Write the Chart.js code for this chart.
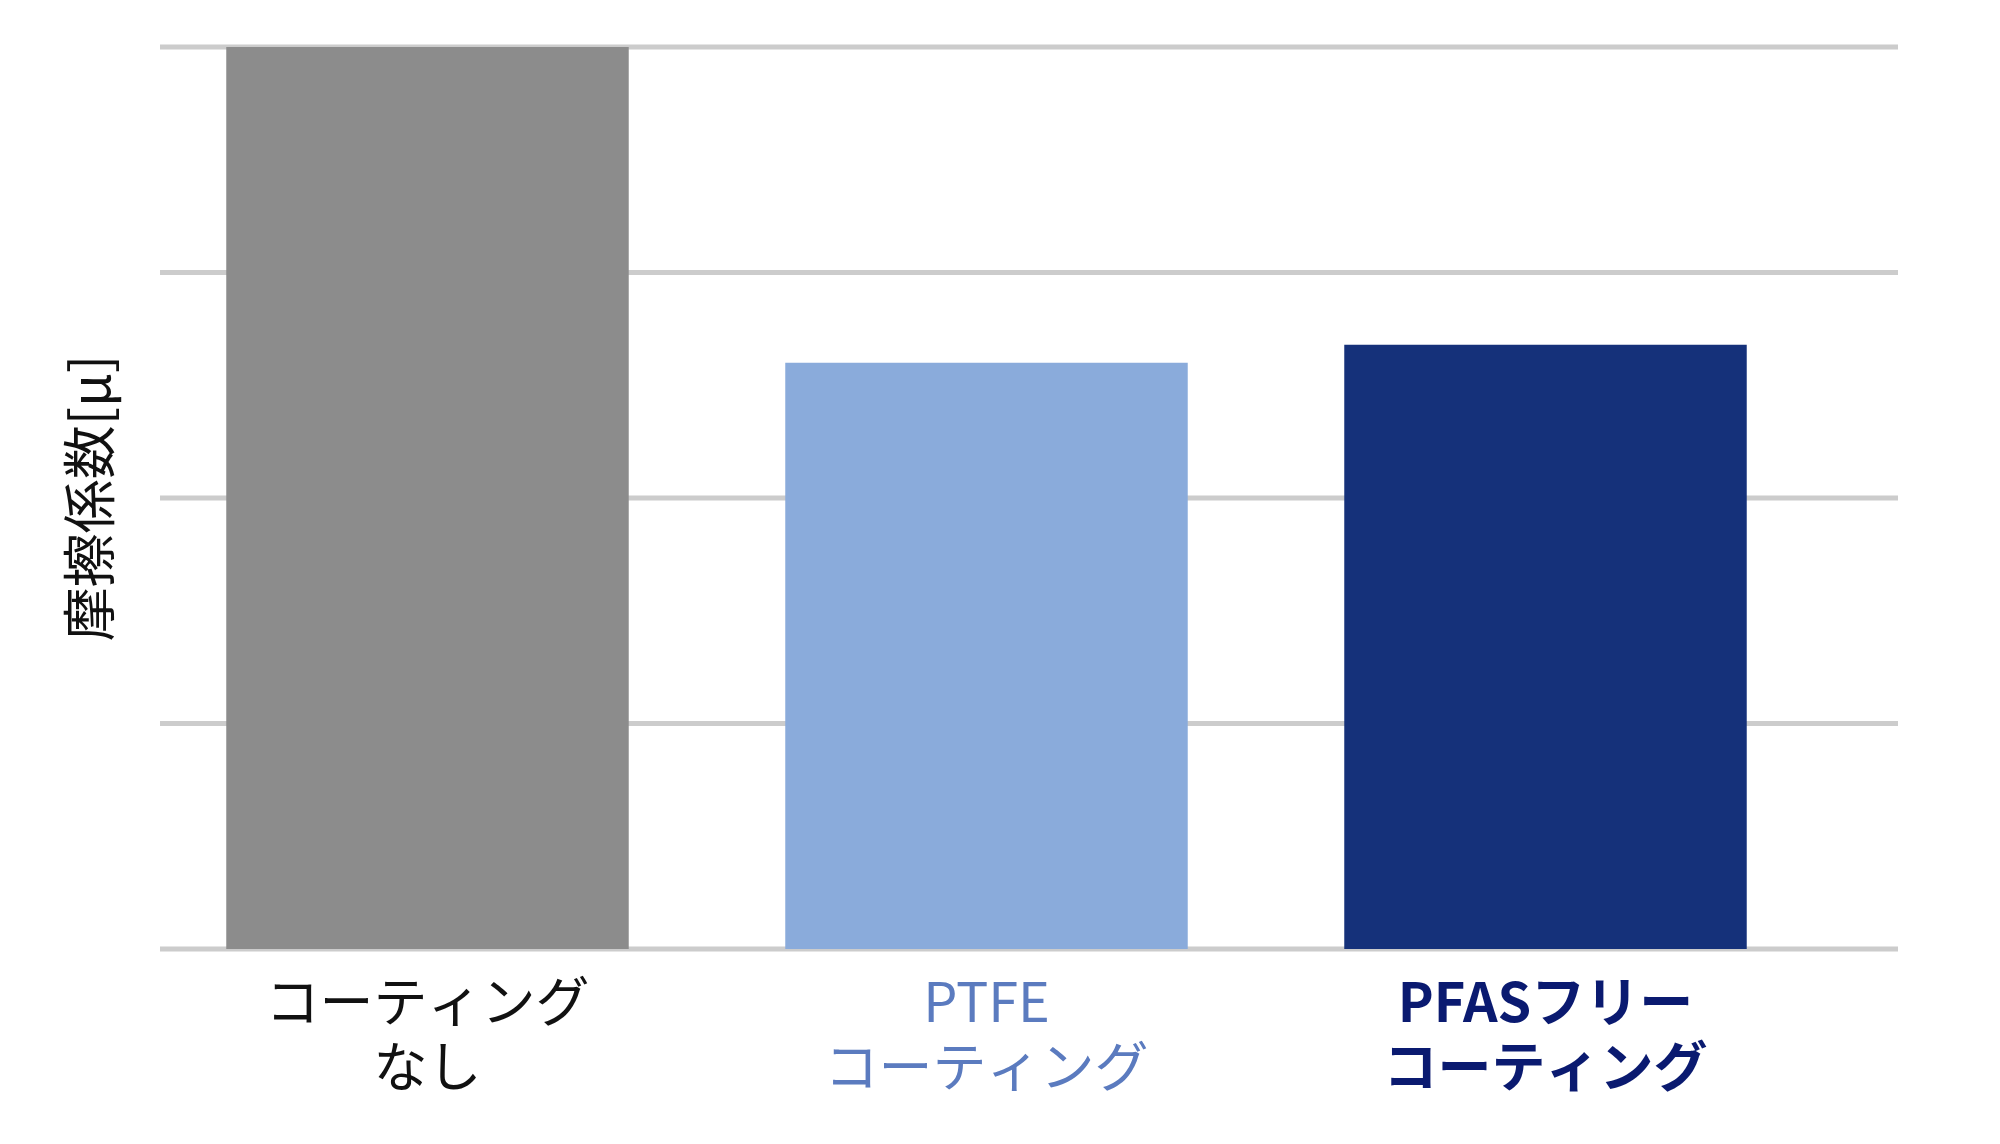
<!DOCTYPE html>
<html lang="ja">
<head>
<meta charset="UTF-8">
<title>摩擦係数</title>
<style>
  body { margin: 0; background: #fff; }
  #wrap { width: 2000px; height: 1144px; }
</style>
</head>
<body>
<div id="wrap"><canvas id="myChart"></canvas></div>
<script src="https://cdn.jsdelivr.net/npm/chart.js"></script>
<script>
const categorias = [["コーティング", "なし"], ["PTFE", "コーティング"], ["PFASフリー", "コーティング"]];
const valores = [4.0, 2.6, 2.68];
const coresBarras = ["#8c8c8c", "#8aabdb", "#15317a"];
const coresRotulos = ["#111111", "#5b7bbf", "#0a1a70"];
const ticksY = [0, 1, 2, 3, 4];

const fonte = "'Noto Sans CJK JP', 'Noto Sans', sans-serif";

// linhas de grade desenhadas mais largas que a área das barras
const gradePlugin = {
  id: 'grade',
  beforeDatasetsDraw(chart) {
    const ctx = chart.ctx, y = chart.scales.y;
    ctx.save();
    ctx.strokeStyle = '#cccccc';
    ctx.lineWidth = 5;
    ticksY.forEach(v => {
      const py = y.getPixelForValue(v);
      ctx.beginPath();
      ctx.moveTo(160, py);
      ctx.lineTo(1898, py);
      ctx.stroke();
    });
    ctx.restore();
  }
};

const Grafico = new Chart(document.getElementById('myChart'), {
  type: 'bar',
  data: {
    labels: categorias,
    datasets: [{ data: valores, backgroundColor: coresBarras, categoryPercentage: 1, barPercentage: 0.72 }]
  },
  options: {
    responsive: true,
    maintainAspectRatio: false,
    animation: false,
    layout: { padding: { top: 47, right: 175, left: 0, bottom: 0 } },
    plugins: { legend: { display: false }, tooltip: { enabled: false } },
    scales: {
      x: {
        grid: { display: false },
        border: { display: false },
        afterFit: s => { s.height = 1144 - 949; },
        ticks: {
          padding: 12,
          color: c => coresRotulos[c.index],
          font: c => ({ family: fonte, size: 54, weight: c.index === 2 ? 'bold' : 'normal', lineHeight: 1.2 })
        }
      },
      y: {
        min: 0, max: 4,
        ticks: { display: false, stepSize: 1 },
        grid: { display: false },
        border: { display: false },
        afterFit: s => { s.width = 148; },
        title: { display: true, text: '摩擦係数[μ]', color: '#111', padding: { top: 57, bottom: 0 }, font: { family: fonte, size: 54 } }
      }
    }
  },
  plugins: [gradePlugin]
});
</script>
</body>
</html>
